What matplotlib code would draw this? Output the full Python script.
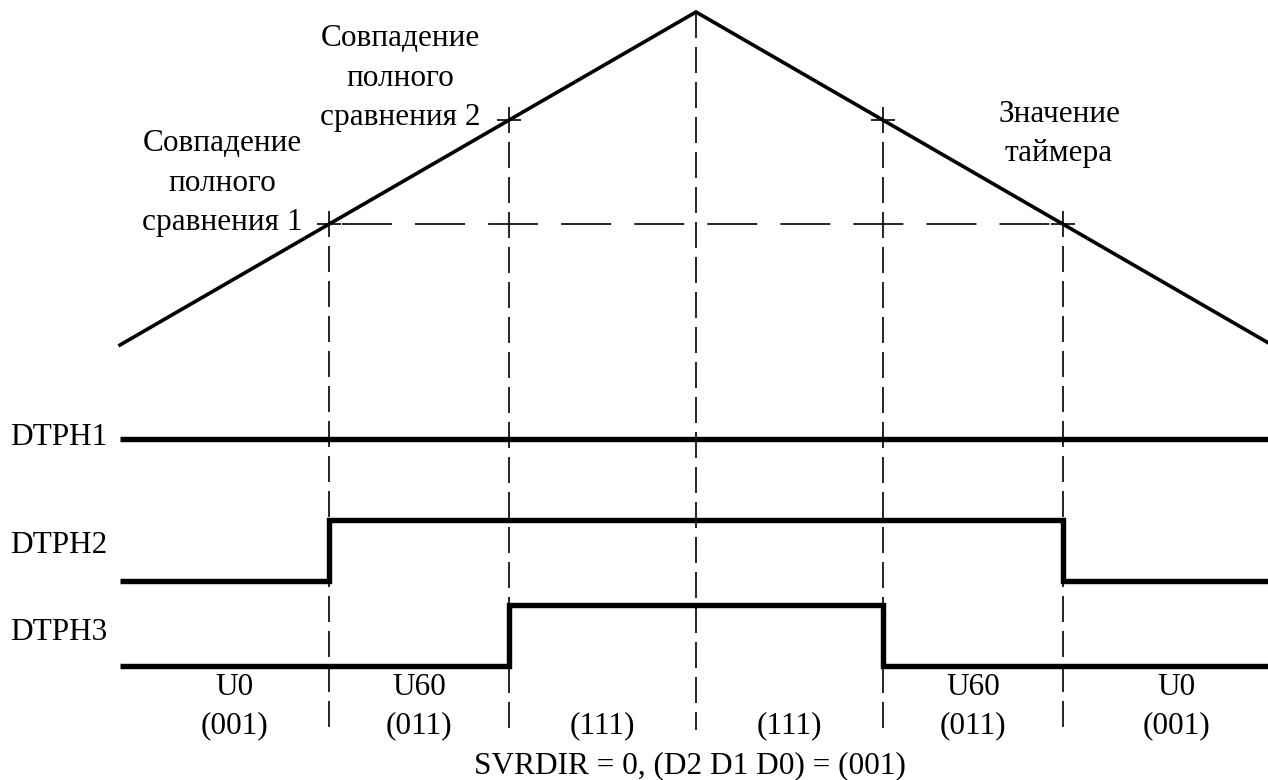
import matplotlib
matplotlib.use("Agg")
import matplotlib.pyplot as plt
import numpy as np

plt.rcParams['font.family'] = ['Liberation Serif', 'DejaVu Serif']
plt.rcParams['lines.scale_dashes'] = False

# ---------------- data ----------------
timer_time = [0, 576, 1152]          # timer sample times (up-count / peak / down-count)
timer_count = [0, 1000, 0]           # timer counter value
compare_levels = [363, 675]          # full compare 1, full compare 2
segment_codes = ['001', '011', '111', '111', '011', '001']   # (D2 D1 D0) per interval
segment_names = ['U0', 'U60', '', '', 'U60', 'U0']
signal_names = ['DTPH1', 'DTPH2', 'DTPH3']
compare_texts = [['Совпадение', 'полного', 'сравнения 1'],
                 ['Совпадение', 'полного', 'сравнения 2']]
timer_text = ['Значение', 'таймера']
caption = 'SVRDIR = 0, (D2 D1 D0) = (001)'

# ---------------- layout ----------------
W, H = 1268, 780
FS = 22.5
fig = plt.figure(figsize=(W / 100, H / 100), dpi=100)
ax = fig.add_axes([0, 0, 1, 1])
ax.set_xlim(-120, W - 120)
ax.set_ylim(H, 0)
ax.axis('off')

ax_t = fig.add_axes([120 / W, (H - 345) / H, (W - 120) / W, 333 / H])
ax_t.set_xlim(0, W - 120)
ax_t.set_ylim(0, 1000)
ax_t.axis('off')

def ty(c):
    return ax.transData.inverted().transform(ax_t.transData.transform((0, c)))[1]

# crossings of compare levels with the timer ramp
peak_t = timer_time[1]
up = [float(np.interp(c, [timer_count[0], timer_count[1]], [timer_time[0], timer_time[1]]))
      for c in compare_levels]
down = [float(np.interp(c, [timer_count[2], timer_count[1]], [timer_time[2], timer_time[1]]))
        for c in compare_levels]
end_t = W - 120
boundaries = [0, up[0], up[1], peak_t, down[1], down[0], end_t]

# timer triangle
ax_t.plot(timer_time, timer_count, color='black', lw=2.6, clip_on=False,
          solid_joinstyle='miter')

dash_kw = dict(color='black', lw=1.2, solid_capstyle='butt', dash_capstyle='butt')
VDASH = (18.7, 6.5)
HDASH = (36, 16.6)
BOTTOM = 730

# vertical dashed lines at crossings
for i, c in enumerate(compare_levels):
    yc = ty(c)
    for t in (up[i], down[i]):
        ax.plot([t, t], [yc - 13, BOTTOM], dashes=VDASH, **dash_kw)
        ax.plot([t - 12, t + 12], [yc, yc], **dash_kw)
# vertical dashed line at the peak
ax.plot([peak_t, peak_t], [ty(timer_count[1]), BOTTOM], dashes=VDASH, **dash_kw)
# horizontal dashed at compare level 1
y1 = ty(compare_levels[0])
ax.plot([up[0] + 13, down[0] - 13], [y1, y1], dashes=HDASH, **dash_kw)

# digital signals
lows = [500, 581, 666]
amp = 61
for i, name in enumerate(signal_names):
    bits = [int(code[2 - i]) for code in segment_codes]
    ys = [lows[i] - amp * b for b in bits] + [lows[i] - amp * bits[-1]]
    ax.step(boundaries, ys, where='post', color='black', lw=3.9,
            solid_joinstyle='miter', solid_capstyle='butt')
label_base = [445, 553, 640]
for i, name in enumerate(signal_names):
    ax.text(-110, label_base[i], name, fontsize=FS, ha='left', va='baseline')

# interval labels
label_bounds = [20] + boundaries[1:-1] + [1170]
for k, (nm, code) in enumerate(zip(segment_names, segment_codes)):
    xm = (label_bounds[k] + label_bounds[k + 1]) / 2
    if nm:
        ax.text(xm, 695, nm, fontsize=FS, ha='center', va='baseline')
    ax.text(xm, 733, '(' + code + ')', fontsize=FS, ha='center', va='baseline')

ax.text(570, 773, caption, fontsize=FS, ha='center', va='baseline')

# annotations
for line, yb in zip(compare_texts[0], [151, 191, 230]):
    ax.text(102, yb, line, fontsize=FS, ha='center', va='baseline')
for line, yb in zip(compare_texts[1], [46, 86, 125]):
    ax.text(280, yb, line, fontsize=FS, ha='center', va='baseline')
for line, yb in zip(timer_text, [122, 161]):
    ax.text(939, yb, line, fontsize=FS, ha='center', va='baseline')

fig.savefig('out.png', dpi=100, facecolor='white')
